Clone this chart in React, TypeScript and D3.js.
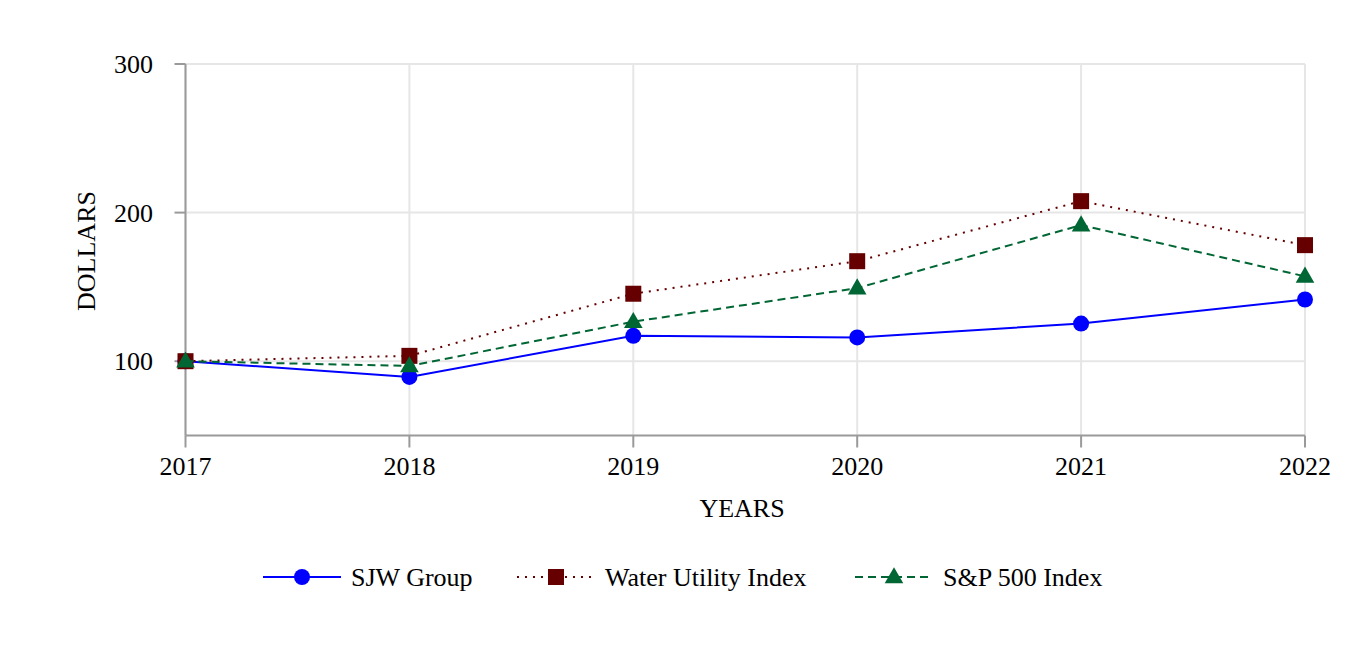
import * as d3 from "d3";

const years = [2017, 2018, 2019, 2020, 2021, 2022];
const sjwGroup = [100, 89.4, 117.1, 116.0, 125.3, 141.5];
const waterUtility = [100, 103.6, 145.4, 167.3, 207.7, 178.1];
const sp500 = [100, 96.8, 126.6, 149.2, 191.6, 157.1];
const yTicks = [100, 200, 300];

const W = 1368;
const H = 666;
const FONT = "'Liberation Serif', 'Times New Roman', serif";

type Marker = "circle" | "square" | "triangle";
const series: { name: string; values: number[]; color: string; dash?: string; marker: Marker; legendX: number }[] = [
  { name: "SJW Group", values: sjwGroup, color: "#0000ff", marker: "circle", legendX: 263 },
  { name: "Water Utility Index", values: waterUtility, color: "#660000", dash: "2,6", marker: "square", legendX: 517 },
  { name: "S&P 500 Index", values: sp500, color: "#006633", dash: "8,5", marker: "triangle", legendX: 855 },
];

function MarkerShape({ type, x, y, color }: { type: Marker; x: number; y: number; color: string }) {
  if (type === "circle") return <circle cx={x} cy={y} r={8} fill={color} />;
  if (type === "square") return <rect x={x - 8} y={y - 8} width={16} height={16} fill={color} />;
  const tri = d3.symbol(d3.symbolTriangle, 150)() ?? "";
  return <path d={tri} transform={`translate(${x},${y + 1})`} fill={color} />;
}

export default function App() {
  const x = d3.scalePoint<number>().domain(years).range([185.5, 1305]);
  const y = d3.scaleLinear().domain([50, 300]).range([435.5, 64]);
  const line = d3
    .line<number>()
    .x((_, i) => x(years[i])!)
    .y((v) => y(v));

  const [x0, x1] = x.range();

  return (
    <svg width={W} height={H} style={{ display: "block", margin: -8 }} fontFamily={FONT}>
      <rect width={W} height={H} fill="#fff" />
      {/* grid */}
      {yTicks.map((t) => (
        <line key={t} x1={x0} x2={x1} y1={y(t)} y2={y(t)} stroke="#e6e6e6" strokeWidth={2} />
      ))}
      {years.map((yr) => (
        <line key={yr} x1={x(yr)} x2={x(yr)} y1={y(300)} y2={y(50)} stroke="#e6e6e6" strokeWidth={2} />
      ))}
      {/* axes */}
      <line x1={x0} x2={x0} y1={y(300)} y2={y(50)} stroke="#9a9a9a" strokeWidth={2} />
      <line x1={x0} x2={x1} y1={y(50)} y2={y(50)} stroke="#9a9a9a" strokeWidth={2} />
      {yTicks.map((t) => (
        <g key={t}>
          <line x1={x0 - 11} x2={x0} y1={y(t)} y2={y(t)} stroke="#9a9a9a" strokeWidth={2} />
          <text x={153} y={y(t) + 9} textAnchor="end" fontSize={26} fill="#000">
            {t}
          </text>
        </g>
      ))}
      {years.map((yr) => (
        <g key={yr}>
          <line x1={x(yr)} x2={x(yr)} y1={y(50)} y2={y(50) + 12} stroke="#9a9a9a" strokeWidth={2} />
          <text x={x(yr)} y={475} textAnchor="middle" fontSize={26} fill="#000">
            {yr}
          </text>
        </g>
      ))}
      <text x={742} y={517} textAnchor="middle" fontSize={26} fill="#000">
        YEARS
      </text>
      <text transform="translate(95,251) rotate(-90)" textAnchor="middle" fontSize={26} fill="#000">
        DOLLARS
      </text>
      {/* series */}
      {series.map((s) => (
        <g key={s.name}>
          <path d={line(s.values) ?? ""} fill="none" stroke={s.color} strokeWidth={2} strokeDasharray={s.dash} />
          {s.values.map((v, i) => (
            <MarkerShape key={i} type={s.marker} x={x(years[i])!} y={y(v)} color={s.color} />
          ))}
        </g>
      ))}
      {/* legend */}
      {series.map((s) => (
        <g key={s.name} transform={`translate(${s.legendX},577)`}>
          <line x1={0} x2={78} y1={0} y2={0} stroke={s.color} strokeWidth={2} strokeDasharray={s.dash} />
          <MarkerShape type={s.marker} x={39} y={0} color={s.color} />
          <text x={88} y={9} fontSize={26} fill="#000">
            {s.name}
          </text>
        </g>
      ))}
    </svg>
  );
}
